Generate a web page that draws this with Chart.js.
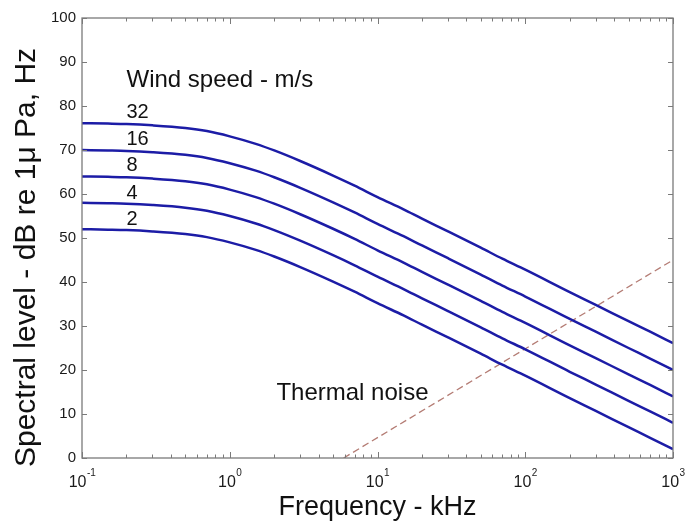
<!DOCTYPE html>
<html><head><meta charset="utf-8">
<script src="https://cdn.jsdelivr.net/npm/chart.js@4/dist/chart.umd.min.js"></script>
<style>html,body{margin:0;padding:0;background:#fff;}#wrap{width:686px;height:526px;}</style>
</head><body><div id="wrap"><canvas id="c" width="686" height="526"></canvas></div>
<script>
// ---- data ----
const frequencies = [0.1,0.15,0.2,0.3,0.5,0.7,1,1.5,2,3,5,7,10,15,20,30,50,70,100,200,300,500,700,1000]; // kHz
const wind32 = [76.1,76.0,75.9,75.6,75.0,74.3,73.1,71.4,69.9,67.5,64.2,61.9,59.3,56.5,54.4,51.5,47.8,45.3,42.8,37.7,34.8,31.1,28.7,26.1];
const wind16 = [70.0,69.9,69.8,69.5,68.9,68.2,67.0,65.3,63.8,61.4,58.1,55.8,53.2,50.4,48.3,45.4,41.7,39.2,36.7,31.6,28.7,25.0,22.6,20.0];
const wind8  = [64.0,63.9,63.8,63.5,62.9,62.2,61.0,59.3,57.8,55.4,52.1,49.8,47.2,44.4,42.3,39.4,35.7,33.2,30.7,25.6,22.7,19.0,16.6,14.0];
const wind4  = [58.0,57.9,57.8,57.5,56.9,56.2,55.0,53.3,51.8,49.4,46.1,43.8,41.2,38.4,36.3,33.4,29.7,27.2,24.7,19.6,16.7,13.0,10.6,8.0];
const wind2  = [52.0,51.9,51.8,51.5,50.9,50.2,49.0,47.3,45.8,43.4,40.1,37.8,35.2,32.4,30.3,27.4,23.7,21.2,18.7,13.6,10.7,7.0,4.6,2.0];
const windSeries = [wind32, wind16, wind8, wind4, wind2];
const windLabels = ['32','16','8','4','2'];
const thermalFreq = [5.9, 1000];
const thermalLevel = [0, 45];

// tick labels
const xTickValues = [0.1, 1, 10, 100, 1000];
const xTickBase = '10';
const xTickExponents = ['-1','0','1','2','3'];
const yMin = 0, yMax = 100, yStep = 10;

// text annotations (in data units)
const windTitle = 'Wind speed - m/s';
const labelFreq = 0.2;
const windTitleLevel = 85.8;
const windLabelLevels = [78.6, 72.3, 66.4, 60.2, 54.2];
const thermalText = 'Thermal noise';
const thermalTextFreq = 2.07, thermalTextLevel = 14.8;
const xTitle = 'Frequency - kHz';
const yTitle = 'Spectral level - dB re 1\u03bc Pa, Hz';

const FONT = '"Liberation Sans", Arial, Helvetica, sans-serif';
Chart.defaults.font.family = FONT;

const datasets = windSeries.map((s, i) => ({
  label: windLabels[i] + ' m/s',
  data: frequencies.map((f, j) => ({x: f, y: s[j]})),
  borderColor: '#1c1ca6',
  borderWidth: 2.5,
  pointRadius: 0,
  cubicInterpolationMode: 'monotone',
  fill: false
}));
datasets.push({
  label: thermalText,
  data: thermalFreq.map((f, j) => ({x: f, y: thermalLevel[j]})),
  borderColor: '#b47c74',
  borderWidth: 1.3,
  borderDash: [7, 4],
  pointRadius: 0,
  fill: false
});

const decor = {
  id: 'decor',
  afterDatasetsDraw(chart) {
    const ctx = chart.ctx, a = chart.chartArea;
    const xs = chart.scales.x, ys = chart.scales.y;
    ctx.save();
    // box
    ctx.strokeStyle = '#7a7a7a';
    ctx.lineWidth = 1.3;
    ctx.strokeRect(a.left, a.top, a.right - a.left, a.bottom - a.top);
    // y ticks inward (left and right)
    ctx.lineWidth = 1;
    for (let v = yMin; v <= yMax; v += yStep) {
      const py = Math.round(ys.getPixelForValue(v)) + 0.5;
      ctx.beginPath();
      ctx.moveTo(a.left, py); ctx.lineTo(a.left + 5, py);
      ctx.moveTo(a.right, py); ctx.lineTo(a.right - 5, py);
      ctx.stroke();
    }
    // x ticks inward (bottom and top), majors + minors
    xTickValues.forEach((v, i) => {
      const mults = i < xTickValues.length - 1 ? [1,2,3,4,5,6,7,8,9] : [1];
      mults.forEach(m => {
        const px = Math.round(xs.getPixelForValue(v * m)) + 0.5;
        const len = m === 1 ? 6 : 3.5;
        ctx.beginPath();
        ctx.moveTo(px, a.bottom); ctx.lineTo(px, a.bottom - len);
        ctx.moveTo(px, a.top); ctx.lineTo(px, a.top + len);
        ctx.stroke();
      });
    });
    // x tick labels: 10 with superscript exponent
    ctx.fillStyle = '#1a1a1a';
    ctx.textBaseline = 'alphabetic';
    ctx.textAlign = 'left';
    xTickValues.forEach((v, i) => {
      const px = xs.getPixelForValue(v);
      ctx.font = '16px ' + FONT;
      const wb = ctx.measureText(xTickBase).width;
      ctx.font = '10px ' + FONT;
      const we = ctx.measureText(xTickExponents[i]).width;
      const x0 = px - (wb + we) / 2;
      ctx.font = '16px ' + FONT;
      ctx.fillText(xTickBase, x0, a.bottom + 29);
      ctx.font = '10px ' + FONT;
      ctx.fillText(xTickExponents[i], x0 + wb + 0.5, a.bottom + 18);
    });
    // axis titles
    ctx.fillStyle = '#111';
    ctx.font = '27px ' + FONT;
    ctx.textAlign = 'center';
    ctx.fillText(xTitle, (a.left + a.right) / 2, a.bottom + 57);
    ctx.save();
    ctx.font = '30px ' + FONT;
    ctx.translate(35, (a.top + a.bottom) / 2 + 19.5);
    ctx.rotate(-Math.PI / 2);
    ctx.fillText(yTitle, 0, 0);
    ctx.restore();
    // annotations
    ctx.textAlign = 'left';
    ctx.textBaseline = 'middle';
    ctx.font = '24px ' + FONT;
    ctx.fillText(windTitle, xs.getPixelForValue(labelFreq), ys.getPixelForValue(windTitleLevel));
    ctx.font = '20px ' + FONT;
    windLabels.forEach((t, i) => {
      ctx.fillText(t, xs.getPixelForValue(labelFreq), ys.getPixelForValue(windLabelLevels[i]));
    });
    ctx.font = '24px ' + FONT;
    ctx.fillText(thermalText, xs.getPixelForValue(thermalTextFreq), ys.getPixelForValue(thermalTextLevel));
    ctx.restore();
  }
};

new Chart(document.getElementById('c'), {
  type: 'line',
  data: { datasets },
  options: {
    responsive: false,
    animation: false,
    devicePixelRatio: 1,
    layout: { padding: { top: 18, right: 13, left: 0, bottom: 0 } },
    plugins: { legend: { display: false }, tooltip: { enabled: false } },
    scales: {
      x: {
        type: 'logarithmic', min: 0.1, max: 1000,
        grid: { display: false, drawTicks: false },
        border: { display: false },
        ticks: { display: false },
        afterFit(s) { s.height = 68; }
      },
      y: {
        type: 'linear', min: yMin, max: yMax,
        grid: { display: false, drawTicks: false },
        border: { display: false },
        ticks: { stepSize: yStep, color: '#1a1a1a', font: { size: 15 }, padding: 6 },
        afterFit(s) { s.width = 82; }
      }
    }
  },
  plugins: [decor]
});
</script></body></html>
